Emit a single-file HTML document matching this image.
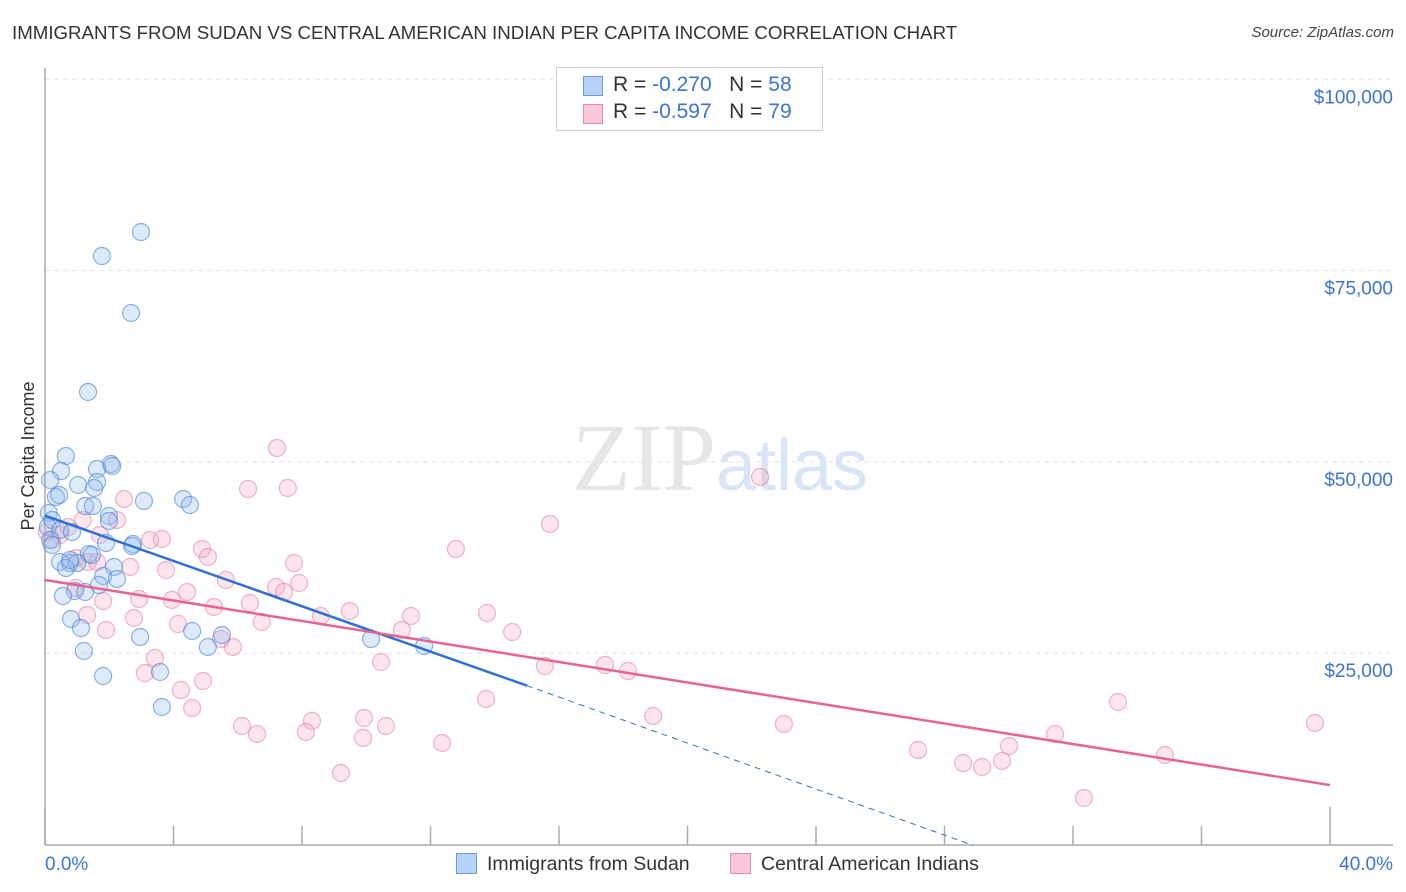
<!DOCTYPE html>
<html><head><meta charset="utf-8"><style>
body{margin:0;background:#fff;font-family:"Liberation Sans",sans-serif;}
#wrap{position:relative;width:1406px;height:892px;overflow:hidden;}
.t{position:absolute;white-space:nowrap;}
</style></head><body>
<div id="wrap">
<div class="t" style="left:12px;top:22px;font-size:18.7px;color:#333;">IMMIGRANTS FROM SUDAN VS CENTRAL AMERICAN INDIAN PER CAPITA INCOME CORRELATION CHART</div>
<div class="t" style="right:12px;top:24px;font-size:15px;color:#444;font-style:italic;">Source: ZipAtlas.com</div>
<svg id="plot" width="1406" height="892" style="position:absolute;left:0;top:0"></svg>
</div>
<script>
const yTicks=[25000,50000,75000,100000];
const yTickLabels=["$25,000","$50,000","$75,000","$100,000"];
const xTicks=[0,4,8,12,16,20,24,28,32,36,40];
const xTickLabels=["0.0%","40.0%"];
const sudanPx=[[141,232],[102,256],[131,313],[88,392],[66,456],[61,471],[111,464],[112,466],[97,469],[97,482],[78,485],[94,488],[56,497],[59,495],[50,480],[144,501],[183,499],[190,505],[85,506],[93,506],[109,516],[109,521],[49,513],[52,520],[106,543],[133,544],[132,546],[48,527],[60,530],[72,532],[89,554],[92,555],[60,562],[70,563],[77,563],[66,568],[114,567],[103,576],[117,579],[99,585],[75,591],[85,592],[63,596],[71,619],[81,628],[140,637],[192,631],[222,635],[208,647],[371,639],[424,646],[84,651],[103,676],[160,672],[162,707],[50,540],[52,545],[70,560]];
const caiPx=[[277,448],[760,477],[124,499],[248,489],[288,488],[550,524],[117,520],[150,540],[162,539],[202,549],[208,557],[456,549],[47,532],[52,540],[60,535],[76,558],[88,562],[97,562],[166,570],[226,580],[276,587],[284,592],[299,583],[130,567],[294,563],[76,588],[87,615],[103,601],[139,599],[172,600],[214,607],[250,603],[187,592],[134,618],[106,630],[178,624],[262,622],[321,616],[350,611],[411,616],[402,630],[487,613],[512,632],[233,647],[221,639],[545,666],[605,665],[628,671],[381,662],[155,658],[145,673],[181,690],[203,681],[192,708],[486,699],[653,716],[242,726],[257,734],[312,721],[306,732],[364,718],[363,738],[386,726],[442,743],[341,773],[784,724],[918,750],[1118,702],[1315,723],[963,763],[982,767],[1002,761],[1009,746],[1055,734],[1165,755],[1084,798],[83,520],[68,527],[100,535]];
const sudanX=sudanPx.map(p=>+((p[0]-45)/128.5*4).toFixed(2));
const sudanY=sudanPx.map(p=>Math.round((845.5-p[1])/191.3*25000));
const caiX=caiPx.map(p=>+((p[0]-45)/128.5*4).toFixed(2));
const caiY=caiPx.map(p=>Math.round((845.5-p[1])/191.3*25000));
const sudanTrend=[[0,43100],[15,20900],[28.9,0]];
const caiTrend=[[0,34700],[40,7900]];

const X=v=>45+v/4*128.5, Y=v=>845.5-v/25000*191.3;
const svg=document.getElementById('plot');const NS='http://www.w3.org/2000/svg';
function mk(tag,a,parent){const e=document.createElementNS(NS,tag);for(const k in a)e.setAttribute(k,a[k]);(parent||svg).appendChild(e);return e;}
yTicks.forEach((v,i)=>{
 const g=mk('line',{x1:45,x2:1393,y1:Y(v)-1,y2:Y(v)-1,stroke:'#e2e2e2','stroke-dasharray':'5,4'});
 
 
 const t=mk('text',{x:1393,y:Y(v)+23,'text-anchor':'end','font-size':19,fill:'#3b74d6','font-family':'Liberation Sans'});
 t.textContent=yTickLabels[i];
 
 
});
const wm=mk('text',{x:720,y:490,'text-anchor':'middle','font-size':96,fill:'#e6e6e6','font-family':'Liberation Serif'});
wm.innerHTML='ZIP<tspan font-family="Liberation Sans" font-size="72" fill="#d7e5f6">atlas</tspan>';


let ax=mk('line',{x1:45,x2:45,y1:68,y2:845,stroke:'#aaa','stroke-width':1.5});


ax=mk('line',{x1:45,x2:1393,y1:845,y2:845,stroke:'#aaa','stroke-width':1.5});


xTicks.forEach((v,i)=>{const major=(i===0||i===10);const tk=mk('line',{x1:X(v),x2:X(v),y1:major?807:826,y2:845,stroke:'#aaa','stroke-width':1.5});
 
 });
let xl=mk('text',{x:45,y:870,'font-size':19,fill:'#3b74d6'});xl.textContent=xTickLabels[0];


xl=mk('text',{x:1393,y:870,'text-anchor':'end','font-size':19,fill:'#3b74d6'});xl.textContent=xTickLabels[1];


const yt=mk('text',{x:0,y:0,transform:'translate(34,456) rotate(-90)','text-anchor':'middle','font-size':18,fill:'#333'});yt.textContent='Per Capita Income';


caiX.forEach((x,i)=>{const c=mk('circle',{cx:X(x),cy:Y(caiY[i]),r:8.5,fill:'rgba(244,160,185,0.28)',stroke:'rgba(230,130,160,0.6)','stroke-width':1.2});
 
 });
sudanX.forEach((x,i)=>{const c=mk('circle',{cx:X(x),cy:Y(sudanY[i]),r:8.5,fill:'rgba(150,190,240,0.32)',stroke:'rgba(80,135,220,0.65)','stroke-width':1.2});
 
 });
let l=mk('line',{x1:X(sudanTrend[0][0]),y1:Y(sudanTrend[0][1]),x2:X(sudanTrend[1][0]),y2:Y(sudanTrend[1][1]),stroke:'#2f6fd8','stroke-width':2.5});


l=mk('line',{x1:X(sudanTrend[1][0]),y1:Y(sudanTrend[1][1]),x2:X(sudanTrend[2][0]),y2:Y(sudanTrend[2][1]),stroke:'#2f6fd8','stroke-width':1,'stroke-dasharray':'6,5'});


l=mk('line',{x1:X(caiTrend[0][0]),y1:Y(caiTrend[0][1]),x2:X(caiTrend[1][0]),y2:Y(caiTrend[1][1]),stroke:'#e8648f','stroke-width':2.5});


</script>
<div style="position:absolute;left:556px;top:67px;width:265px;height:62px;border:1px solid #ccc;background:#fff;font-size:21px;color:#333;">
 <div style="position:absolute;left:26px;top:8px;width:18px;height:18px;background:#b7d2f5;border:1px solid #6b9be0;"></div>
 <div class="t" style="left:56px;top:5px;">R = <span style="color:#3b74d6">-0.270</span>&nbsp;&nbsp;&nbsp;N = <span style="color:#3b74d6">58</span></div>
 <div style="position:absolute;left:26px;top:36px;width:18px;height:18px;background:#f8c8d7;border:1px solid #e88aa8;"></div>
 <div class="t" style="left:56px;top:32px;">R = <span style="color:#3b74d6">-0.597</span>&nbsp;&nbsp;&nbsp;N = <span style="color:#3b74d6">79</span></div>
</div>
<div class="t" style="left:456px;top:853px;font-size:19.5px;color:#333;"><span style="display:inline-block;width:19px;height:19px;background:#b7d2f5;border:1px solid #6b9be0;vertical-align:-4px;margin-right:10px;"></span>Immigrants from Sudan</div>
<div class="t" style="left:730px;top:853px;font-size:19.5px;color:#333;"><span style="display:inline-block;width:19px;height:19px;background:#f8c8d7;border:1px solid #e88aa8;vertical-align:-4px;margin-right:10px;"></span>Central American Indians</div>
</body></html>
